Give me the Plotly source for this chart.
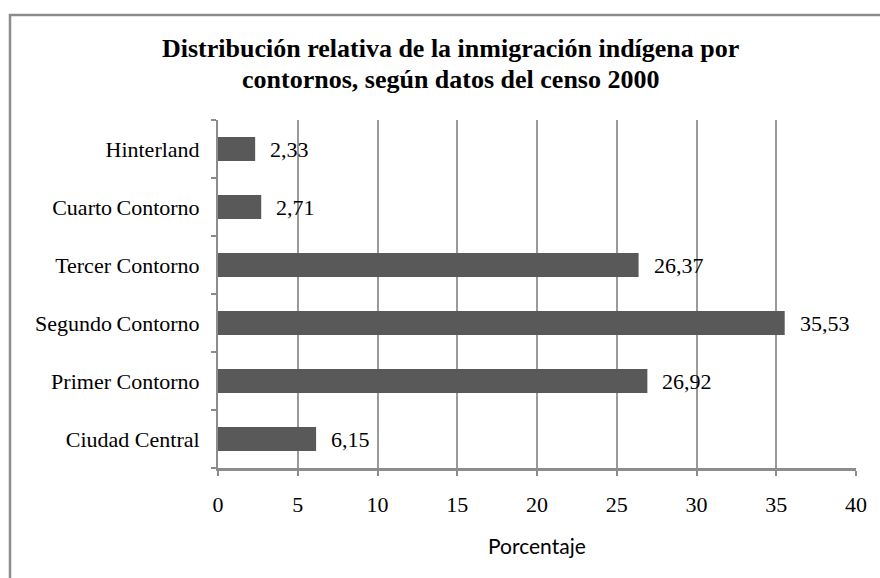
import plotly.graph_objects as go

categories = ["Ciudad Central", "Primer Contorno", "Segundo Contorno",
              "Tercer Contorno", "Cuarto Contorno", "Hinterland"]
tick_text = ["Ciudad Central", "Primer Contorno", "Segundo\u2009Contorno",
             "Tercer Contorno", "Cuarto\u2009Contorno", "Hinterland"]
values = [6.15, 26.92, 35.53, 26.37, 2.71, 2.33]
x_ticks = [0, 5, 10, 15, 20, 25, 30, 35, 40]

title_lines = ["Distribución relativa de la inmigración indígena por",
               "contornos, según datos del censo 2000"]
x_title = "Porcentaje"

SERIF = "Liberation Serif, Times New Roman, serif"
PLOT_TOP, PLOT_BOTTOM, PLOT_LEFT, PLOT_RIGHT = 120, 468, 218, 856


def py(px):
    return (PLOT_BOTTOM - px) / (PLOT_BOTTOM - PLOT_TOP)


def pxx(px):
    return (px - PLOT_LEFT) / (PLOT_RIGHT - PLOT_LEFT)


fig = go.Figure()
fig.add_trace(go.Bar(
    y=categories, x=values, orientation="h",
    marker=dict(color="#595959", line=dict(width=0)),
    width=0.41, hoverinfo="skip",
))

for c, v in zip(categories, values):
    fig.add_annotation(
        x=v, y=c, xref="x", yref="y",
        text=f"{v:.2f}".replace(".", ","),
        showarrow=False, xanchor="left", yanchor="middle", xshift=13,
        font=dict(family=SERIF, size=22, color="#000000"),
    )

for line, ypx in zip(title_lines, [49, 79]):
    fig.add_annotation(
        x=pxx(450), y=py(ypx), xref="paper", yref="paper",
        text=f"<b>{line}</b>", showarrow=False,
        xanchor="center", yanchor="middle",
        font=dict(family=SERIF, size=26, color="#000000"),
    )

fig.add_annotation(
    x=0.5, y=py(545), xref="paper", yref="paper", text=x_title,
    showarrow=False, xanchor="center", yanchor="middle",
    font=dict(family="Lato, sans-serif", size=21, color="#000000"),
)

fig.update_layout(
    width=880, height=578,
    margin=dict(l=PLOT_LEFT, r=880 - PLOT_RIGHT, t=PLOT_TOP, b=578 - PLOT_BOTTOM),
    paper_bgcolor="white", plot_bgcolor="white",
    showlegend=False,
    xaxis=dict(
        range=[0, 40], tickvals=x_ticks,
        showgrid=True, gridcolor="#9a9a9a", gridwidth=1.5,
        showline=True, linecolor="#8c8c8c", linewidth=2.5,
        ticks="outside", ticklen=5, tickcolor="#8c8c8c", tickwidth=1.5,
        ticklabelstandoff=10,
        tickfont=dict(family=SERIF, size=22, color="#000000"),
        zeroline=False, fixedrange=True, automargin=False,
    ),
    yaxis=dict(
        type="category", categoryorder="array", categoryarray=categories,
        tickvals=categories, ticktext=tick_text,
        tickson="boundaries",
        showgrid=False, showline=True, linecolor="#8c8c8c", linewidth=2,
        ticks="outside", ticklen=5, tickcolor="#8c8c8c", tickwidth=1.5,
        ticklabelstandoff=12,
        tickfont=dict(family=SERIF, size=22, color="#000000"),
        zeroline=False, fixedrange=True, automargin=False,
    ),
    shapes=[dict(
        type="rect", xref="paper", yref="paper",
        x0=pxx(10), x1=1.2, y0=-0.6, y1=py(15),
        line=dict(color="#8c8c8c", width=2.5), fillcolor="rgba(0,0,0,0)",
        layer="below",
    )],
)

fig.write_html(
    "out.html",
    config={"displayModeBar": False},
    post_script="document.body.style.margin='0';document.body.style.overflow='hidden';",
)
